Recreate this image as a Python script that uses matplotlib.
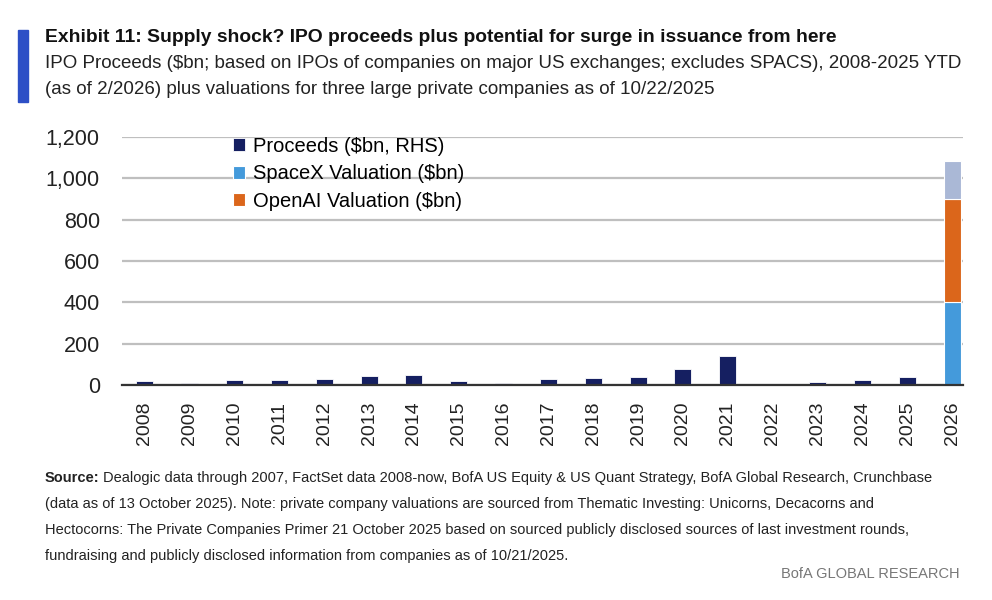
import matplotlib.pyplot as plt
import numpy as np

years = [str(y) for y in range(2008, 2027)]
proceeds = [19, 13, 26, 24, 29, 44, 48, 21, 12, 31, 37, 40, 79, 140, 5, 15, 27, 40, 0]
spacex = [0] * 18 + [400]
openai = [0] * 18 + [500]
anthropic = [0] * 18 + [183]

plt.rcParams['font.family'] = ['Liberation Sans', 'DejaVu Sans']

fig = plt.figure(figsize=(9.92, 6), dpi=100)
ax = fig.add_axes([0.123, 0.358, 0.848, 0.414])

x = np.arange(len(years))
w = 0.38
ax.bar(x, proceeds, w, color='#151F61', edgecolor='white', linewidth=0.6,
       label='Proceeds ($bn, RHS)', zorder=3)
ax.bar(x, spacex, w, color='#449ADB', edgecolor='white', linewidth=0.8,
       label='SpaceX Valuation ($bn)', zorder=3)
ax.bar(x, openai, w, bottom=spacex, color='#DB661B', edgecolor='white', linewidth=0.8,
       label='OpenAI Valuation ($bn)', zorder=3)
ax.bar(x, anthropic, w, bottom=np.add(spacex, openai), color='#AAB8D6',
       edgecolor='white', linewidth=0.8, zorder=3)

ax.set_xlim(-0.51, 18.25)
ax.set_ylim(0, 1200)
ax.set_yticks(range(0, 1201, 200))
ax.set_yticklabels([f'{v:,}' for v in range(0, 1201, 200)])
ax.set_xticks(x)
ax.set_xticklabels(years, rotation=90)
ax.tick_params(axis='both', length=0, colors='#222222')
ax.tick_params(axis='y', pad=16, labelsize=15.5)
ax.tick_params(axis='x', pad=12, labelsize=14)
ax.yaxis.grid(True, color='#BFBFBF', linewidth=1.6)
ax.set_axisbelow(True)
for s in ['top', 'right', 'left']:
    ax.spines[s].set_visible(False)
ax.spines['bottom'].set_color('#333333')
ax.spines['bottom'].set_linewidth(1.6)
ax.spines['bottom'].set_zorder(4)

ax.legend(loc='upper left', bbox_to_anchor=(0.132, 1.0), frameon=False,
          fontsize=14.5, handlelength=0.6, handleheight=0.6, handletextpad=0.4,
          labelspacing=0.42, borderpad=0, borderaxespad=0)

# title block
fig.patches.append(plt.Rectangle((18 / 992, 1 - 102 / 600), 10 / 992, 72 / 600,
                                 transform=fig.transFigure, color='#2D4FC6'))
fig.text(45 / 992, 1 - 38 / 600,
         'Exhibit 11: Supply shock? IPO proceeds plus potential for surge in issuance from here',
         fontsize=13.9, fontweight='bold', va='center', color='#111111')
fig.text(45 / 992, 1 - 63 / 600,
         'IPO Proceeds ($bn; based on IPOs of companies on major US exchanges; excludes SPACS), 2008-2025 YTD',
         fontsize=13.5, va='center', color='#222222')
fig.text(45 / 992, 1 - 89 / 600,
         '(as of 2/2026) plus valuations for three large private companies as of 10/22/2025',
         fontsize=13.5, va='center', color='#222222')

# source notes
src_lines = [
    'Dealogic data through 2007, FactSet data 2008-now, BofA US Equity & US Quant Strategy, BofA Global Research, Crunchbase',
    '(data as of 13 October 2025). Note: private company valuations are sourced from Thematic Investing: Unicorns, Decacorns and',
    'Hectocorns: The Private Companies Primer 21 October 2025 based on sourced publicly disclosed sources of last investment rounds,',
    'fundraising and publicly disclosed information from companies as of 10/21/2025.',
]
t = fig.text(45 / 992, 1 - 478 / 600, 'Source:', fontsize=10.5, fontweight='bold',
             va='center', color='#222222')
fig.canvas.draw()
bb = t.get_window_extent()
fig.text(bb.x1 / 992 + 3 / 992, 1 - 478 / 600, src_lines[0], fontsize=10.5,
         va='center', color='#222222')
for i, line in enumerate(src_lines[1:]):
    fig.text(45 / 992, 1 - (504 + 26 * i) / 600, line, fontsize=10.5,
             va='center', color='#222222')
fig.text(960 / 992, 1 - 574 / 600, 'BofA GLOBAL RESEARCH', fontsize=10.5,
         ha='right', va='center', color='#777777')

fig.savefig('out.png', dpi=100)
